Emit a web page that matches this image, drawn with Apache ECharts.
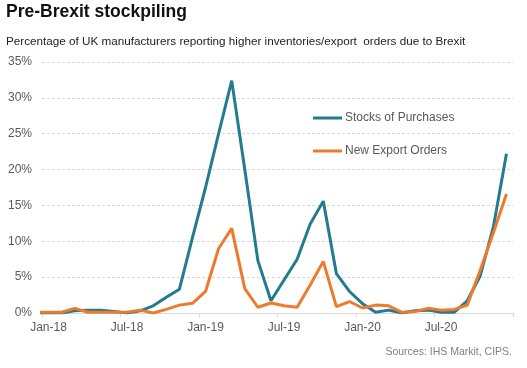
<!DOCTYPE html>
<html>
<head>
<meta charset="utf-8">
<script src="https://cdn.jsdelivr.net/npm/echarts@6/dist/echarts.min.js"></script>
<style>
html,body{margin:0;padding:0;background:#fff;}
#c{width:527px;height:368px;}
</style>
</head>
<body>
<div id="c"></div>
<script>
// Months (the first, Dec-17, lies just left of the plot and is clipped)
const months = ['Dec-17',
  'Jan-18','Feb-18','Mar-18','Apr-18','May-18','Jun-18','Jul-18','Aug-18','Sep-18','Oct-18','Nov-18','Dec-18',
  'Jan-19','Feb-19','Mar-19','Apr-19','May-19','Jun-19','Jul-19','Aug-19','Sep-19','Oct-19','Nov-19','Dec-19',
  'Jan-20','Feb-20','Mar-20','Apr-20','May-20','Jun-20','Jul-20','Aug-20','Sep-20','Oct-20','Nov-20','Dec-20'];
const stocksOfPurchases = [0,
  0,0,0.3,0.4,0.4,0.2,0,0.3,1.0,2.2,3.3,10.5,
  17.5,25,32.4,20,7.3,1.7,4.6,7.5,12.4,15.6,5.5,3.0,
  1.3,0.1,0.4,0,0.3,0.4,0.1,0.1,1.7,5.2,12.0,22.2];
const newExportOrders = [0.1,
  0.1,0.1,0.65,0.1,0.1,0.1,0.1,0.4,0,0.5,1.1,1.35,
  3.0,9.0,11.8,3.4,0.8,1.4,1.0,0.8,3.9,7.2,0.9,1.6,
  0.7,1.1,1.0,0.1,0.2,0.65,0.4,0.5,1.1,6.0,11.2,16.6];
const yTicks = [0,5,10,15,20,25,30,35];
const seriesNames = ['Stocks of Purchases','New Export Orders'];

const toXY = arr => arr.map((v,i)=>[i-0.5, v]);
const font = 'Arial, "Liberation Sans", sans-serif';

const chart = echarts.init(document.getElementById('c'), null, {renderer:'canvas'});
chart.setOption({
  animation:false,
  backgroundColor:'#fff',
  title:[
    {text:'Pre-Brexit stockpiling', left:6, top:3, padding:0,
     textStyle:{fontFamily:font, fontSize:17.5, fontWeight:'bold', color:'#111'}},
    {text:'Percentage of UK manufacturers reporting higher inventories/export  orders due to Brexit',
     left:6, top:36, padding:0, textStyle:{fontFamily:font, fontSize:11.7, fontWeight:'normal', color:'#222'}},
    {text:'Sources: IHS Markit, CIPS.', right:15, top:347, padding:0,
     textStyle:{fontFamily:font, fontSize:10.5, fontWeight:'normal', color:'#7f7f7f'}}
  ],
  legend:{
    orient:'vertical', left:313, top:112, itemGap:21, padding:0,
    itemWidth:29, itemHeight:3, icon:'rect',
    textStyle:{fontFamily:font, fontSize:12, color:'#595959', padding:[0,0,0,-2]},
    data:seriesNames
  },
  grid:{left:42, right:14, top:62, bottom:55, containLabel:false},
  xAxis:{
    type:'value', min:0, max:36, interval:6,
    axisLine:{show:true, onZero:true, lineStyle:{color:'#d9d9d9', width:1}},
    axisTick:{show:true, length:4, lineStyle:{color:'#d9d9d9'}},
    splitLine:{show:false},
    axisLabel:{
      fontFamily:font, fontSize:12, color:'#595959', margin:9,
      padding:[0,0,0,13],
      showMaxLabel:true,
      formatter:function(v){ return v < 36 ? months[v+1] : ''; }
    }
  },
  yAxis:{
    type:'value', min:yTicks[0], max:yTicks[yTicks.length-1], interval:5,
    axisLine:{show:false}, axisTick:{show:false},
    splitLine:{show:true, lineStyle:{color:'#d9d9d9', type:[3,2], width:1}},
    axisLabel:{fontFamily:font, fontSize:12, color:'#595959', margin:10, formatter:'{value}%'}
  },
  series:[
    {name:seriesNames[0], type:'line', data:toXY(stocksOfPurchases), symbol:'none', clip:true,
     lineStyle:{color:'#247b8f', width:3}, itemStyle:{color:'#247b8f'}, z:3},
    {name:seriesNames[1], type:'line', data:toXY(newExportOrders), symbol:'none', clip:true,
     lineStyle:{color:'#ec7b2d', width:3}, itemStyle:{color:'#ec7b2d'}, z:4}
  ]
});
</script>
</body>
</html>
